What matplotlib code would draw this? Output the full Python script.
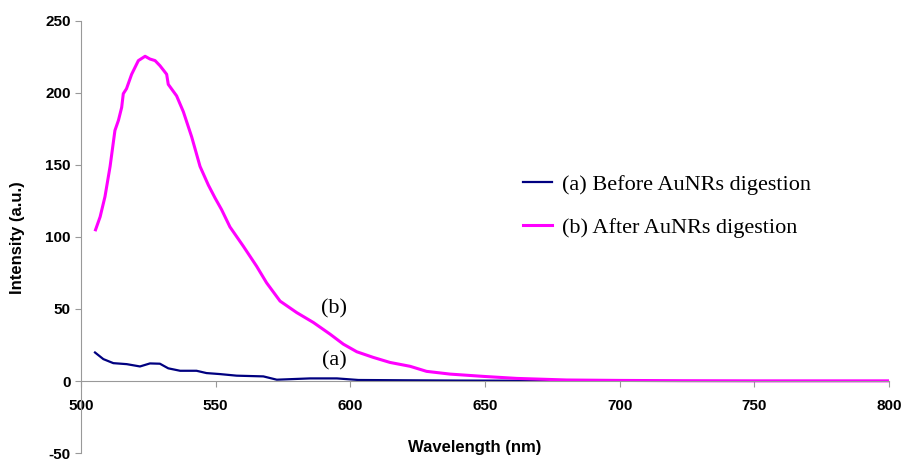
import matplotlib
matplotlib.use('Agg')
import matplotlib.pyplot as plt
import numpy as np

plt.rcParams['axes.unicode_minus'] = False

# spectrum (a): before digestion
wl_a = [505.2, 508.3, 512.0, 517.0, 521.9, 525.6, 529.3, 532.4, 536.8, 542.9,
        546.6, 551.6, 557.8, 567.7, 572.7, 585.0, 595.0, 603.0, 620.0, 640.0,
        660.0, 680.3]
int_a = [19.8, 15.2, 12.4, 11.7, 10.1, 12.2, 12.0, 8.8, 7.1, 7.1,
         5.5, 4.8, 3.7, 3.2, 0.9, 1.8, 1.8, 0.7, 0.5, 0.3,
         0.2, 0.1]

# spectrum (b): after digestion
wl_b = [505.4, 507.1, 508.9, 510.8, 512.6, 513.9, 515.1, 515.7, 516.9, 518.8,
        521.3, 523.8, 525.6, 527.5, 529.3, 531.8, 532.4, 535.5, 538.0, 541.1,
        544.2, 547.3, 549.8, 552.2, 555.3, 560.3, 565.2, 568.9, 573.9, 580.1,
        586.3, 592.5, 597.4, 602.4, 608.5, 614.7, 622.2, 628.3, 637.0, 649.4,
        661.8, 680.3, 700.0, 723.5, 750.0, 775.0, 800.0]
int_b = [105.0, 114.0, 128.0, 149.0, 174.0, 181.0, 190.0, 199.5, 203.0, 213.0,
         222.5, 225.5, 223.6, 222.5, 219.0, 213.0, 206.0, 198.0, 187.0, 169.5,
         149.0, 136.0, 127.0, 119.0, 107.0, 93.5, 79.7, 68.2, 55.5, 47.5,
         40.6, 32.5, 25.6, 20.3, 16.4, 12.9, 10.2, 6.7, 4.8, 3.2,
         1.8, 0.7, 0.4, 0.2, 0.1, 0.1, 0.1]

fig = plt.figure(figsize=(9.06, 4.61), dpi=100)
ax = fig.add_axes([81 / 906, 8 / 461, 808 / 906, 432 / 461])

ax.plot(wl_a, int_a, color='#000080', lw=1.6, label='(a) Before AuNRs digestion')
ax.plot(wl_b, int_b, color='#FF00FF', lw=2.2, label='(b) After AuNRs digestion')

ax.set_xlim(500, 800)
ax.set_ylim(-50, 250)
ax.set_xticks(np.arange(500, 801, 50))
ax.set_yticks(np.arange(-50, 251, 50))

for s in ['top', 'right']:
    ax.spines[s].set_visible(False)
ax.spines['bottom'].set_position(('data', 0))
ax.spines['left'].set_color('#999999')
ax.spines['bottom'].set_color('#999999')
ax.tick_params(axis='both', direction='out', length=4, color='#999999',
               labelsize=11)
ax.tick_params(axis='x', pad=9)
for lbl in ax.get_xticklabels() + ax.get_yticklabels():
    lbl.set_fontweight('bold')
    lbl.set_family('Liberation Sans')

fig.text(475 / 906, 1 - 447 / 461, 'Wavelength (nm)', ha='center', va='center',
         fontsize=12, fontweight='bold', family='Liberation Sans')
fig.text(18 / 906, 1 - 238 / 461, 'Intensity (a.u.)', ha='center', va='center',
         rotation=90, fontsize=12, fontweight='bold', family='Liberation Sans')

ax.text(594, 50, '(b)', ha='center', va='center', fontsize=16, family='Liberation Serif')
ax.text(594, 14, '(a)', ha='center', va='center', fontsize=16, family='Liberation Serif')

ax.legend(loc='upper left', bbox_to_anchor=(0.522, 0.691), frameon=False,
          prop={'family': 'Liberation Serif', 'size': 16}, handlelength=1.3,
          handletextpad=0.45, labelspacing=1.0)

fig.savefig('out.png', dpi=100)
